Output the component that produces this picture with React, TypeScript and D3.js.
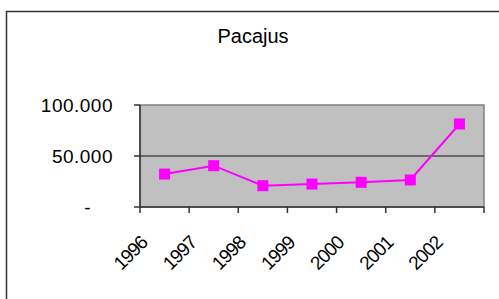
import React from 'react'
import * as d3 from 'd3'

const years = ['1996', '1997', '1998', '1999', '2000', '2001', '2002']
const population = [32300, 40500, 20900, 22500, 24200, 26500, 81400]
const yTicks = [0, 50000, 100000]
const yTickLabels = ['-', '50.000', '100.000']

const W = 499
const H = 299
const plot = { left: 140, right: 484, top: 105, bottom: 207 }
const font = 'Liberation Sans, Arial, sans-serif'

export default function App() {
    const x = d3.scaleBand().domain(years).range([plot.left, plot.right])
    const y = d3.scaleLinear().domain([0, 100000]).range([plot.bottom, plot.top])

    const line = d3.line<number>()
        .x((d, i) => x(years[i])! + x.bandwidth() / 2)
        .y(d => y(d))

    const tickXs = years.map(yr => x(yr)!).concat([plot.right])

    return (
        <svg width={W} height={H} style={{ position: 'absolute', left: 0, top: 0, background: '#fff' }}>
            <rect x={6.5} y={11.5} width={W} height={H} fill="#fff" stroke="#333" strokeWidth={1.5} />

            <text x={253} y={43} textAnchor="middle" fontFamily={font} fontSize={20} fill="#000">Pacajus</text>

            {/* plot area */}
            <rect x={plot.left} y={plot.top} width={plot.right - plot.left} height={plot.bottom - plot.top}
                fill="#c0c0c0" stroke="#808080" strokeWidth={1.5} />

            {yTicks.slice(1, 2).map(t => (
                <line key={t} x1={plot.left} x2={plot.right} y1={y(t)} y2={y(t)} stroke="#4d4d4d" strokeWidth={1.5} />
            ))}

            {/* axes */}
            <line x1={plot.left} x2={plot.left} y1={plot.top} y2={plot.bottom} stroke="#333" strokeWidth={1.5} />
            <line x1={plot.left} x2={plot.right} y1={plot.bottom} y2={plot.bottom} stroke="#333" strokeWidth={1.5} />

            {yTicks.map((t, i) => (
                <g key={t}>
                    <line x1={plot.left - 6} x2={plot.left} y1={y(t)} y2={y(t)} stroke="#333" strokeWidth={1.5} />
                    <text x={t === 0 ? 91 : 113} y={y(t)} dy="0.35em" textAnchor="end" fontFamily={font}
                        fontSize={19} letterSpacing={0.5} fill="#000">
                        {yTickLabels[i]}
                    </text>
                </g>
            ))}

            {tickXs.map((tx, i) => (
                <line key={i} x1={tx} x2={tx} y1={plot.bottom} y2={plot.bottom + 6} stroke="#333" strokeWidth={1.5} />
            ))}

            {years.map(yr => {
                const cx = x(yr)! + x.bandwidth() / 2 - 16
                return (
                    <text key={yr} transform={`translate(${cx},244) rotate(-45)`} textAnchor="end"
                        fontFamily={font} fontSize={19} letterSpacing={-1} fill="#000">{yr}</text>
                )
            })}

            <path d={line(population) ?? ''} fill="none" stroke="#ff00ff" strokeWidth={2} />
            {population.map((v, i) => (
                <rect key={i} x={x(years[i])! + x.bandwidth() / 2 - 5.5} y={y(v) - 5.5} width={11} height={11} fill="#ff00ff" />
            ))}
        </svg>
    )
}
